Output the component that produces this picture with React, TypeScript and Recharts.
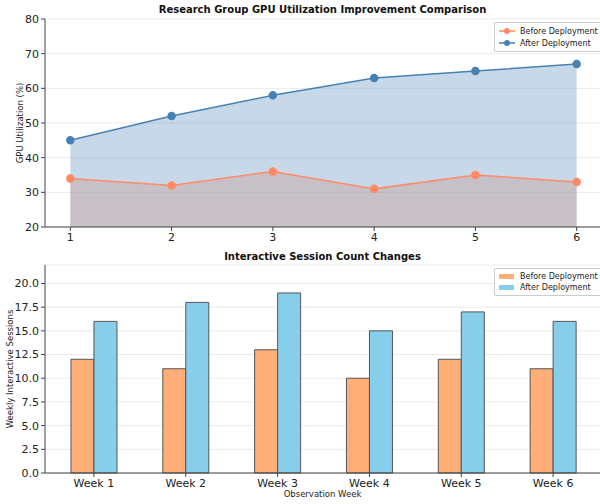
import React from "react";
import {
  ComposedChart,
  Area,
  Line,
  BarChart,
  Bar,
  XAxis,
  YAxis,
  CartesianGrid,
  Legend,
} from "recharts";

const weeks = [1, 2, 3, 4, 5, 6];
const weekLabels = ["Week 1", "Week 2", "Week 3", "Week 4", "Week 5", "Week 6"];
const seriesNames = ["Before Deployment", "After Deployment"];
const gpuBefore = [34, 32, 36, 31, 35, 33];
const gpuAfter = [45, 52, 58, 63, 65, 67];
const sessionsBefore = [12, 11, 13, 10, 12, 11];
const sessionsAfter = [16, 18, 19, 15, 17, 16];

const gpuTicks = [20, 30, 40, 50, 60, 70, 80];
const sessionTicks = [0, 2.5, 5, 7.5, 10, 12.5, 15, 17.5, 20];

const FONT = "'DejaVu Sans', sans-serif";
const C_BEFORE = "#FF8A65";
const C_AFTER = "#4682B4";
const BAR_BEFORE = "#FFAE78";
const BAR_AFTER = "#87CEEB";

const gpuData = weeks.map((w, i) => ({ week: w, before: gpuBefore[i], after: gpuAfter[i] }));
const sessionData = weekLabels.map((w, i) => ({
  week: w,
  before: sessionsBefore[i],
  after: sessionsAfter[i],
}));

const tickStyle = { fontSize: 11, fill: "#222", fontFamily: FONT };

const legendBox: React.CSSProperties = {
  border: "1px solid #ccc",
  borderRadius: 2,
  background: "rgba(255,255,255,0.85)",
  padding: "2px 4px",
  fontFamily: FONT,
  fontSize: 8,
  color: "#222",
  lineHeight: "normal",
};

function ordered(payload: any[], type?: string) {
  return (payload || [])
    .filter((p: any) => seriesNames.includes(p.value) && (!type || p.type === type))
    .sort((a: any, b: any) => seriesNames.indexOf(a.value) - seriesNames.indexOf(b.value));
}

function LineLegend({ payload }: any) {
  return (
    <div style={legendBox}>
      {ordered(payload, "line").map((p: any) => (
        <div key={p.value} style={{ display: "flex", alignItems: "center", height: 12 }}>
          <svg width={16} height={10} style={{ marginRight: 5 }}>
            <line x1={0} y1={5} x2={16} y2={5} stroke={p.color} strokeWidth={1.5} />
            <circle cx={8} cy={5} r={3} fill={p.color} />
          </svg>
          {p.value}
        </div>
      ))}
    </div>
  );
}

function BarLegend({ payload }: any) {
  return (
    <div style={legendBox}>
      {ordered(payload).map((p: any) => (
        <div key={p.value} style={{ display: "flex", alignItems: "center", height: 11 }}>
          <div style={{ width: 15, height: 5, background: p.color, marginRight: 6 }} />
          {p.value}
        </div>
      ))}
    </div>
  );
}

const titleStyle: React.CSSProperties = {
  position: "absolute",
  left: 45,
  width: 555,
  textAlign: "center",
  fontFamily: FONT,
  fontWeight: "bold",
  fontSize: 10,
  color: "#111",
  whiteSpace: "nowrap",
};

const yLabelStyle: React.CSSProperties = {
  position: "absolute",
  fontFamily: FONT,
  fontSize: 8.5,
  color: "#222",
  whiteSpace: "nowrap",
  transform: "translate(-50%, -50%) rotate(-90deg)",
};

export default function App() {
  return (
    <div
      style={{
        position: "absolute",
        left: 0,
        top: 0,
        width: 600,
        height: 504,
        overflow: "hidden",
        background: "#fff",
      }}
    >
      <div style={{ ...titleStyle, top: 4 }}>Research Group GPU Utilization Improvement Comparison</div>
      <div style={{ ...yLabelStyle, left: 20, top: 123 }}>GPU Utilization (%)</div>
      <div style={{ position: "absolute", left: 0, top: 0 }}>
        <ComposedChart
          width={610}
          height={250}
          data={gpuData}
          margin={{ top: 19, right: 8, left: 0, bottom: 3 }}
        >
          <CartesianGrid vertical={false} stroke="#ebebeb" />
          <XAxis
            dataKey="week"
            type="number"
            domain={[0.75, 6.25]}
            ticks={weeks}
            tick={tickStyle}
            tickSize={4}
            height={20}
            stroke="#444"
          />
          <XAxis xAxisId="top" orientation="top" dataKey="week" type="number" domain={[0.75, 6.25]} tick={false} tickLine={false} height={0} stroke="#999" />
          <YAxis
            type="number"
            domain={[20, 80]}
            ticks={gpuTicks}
            tick={tickStyle}
            tickSize={4}
            width={45}
            stroke="#444"
          />
          <Area
            dataKey="before"
            stroke="none"
            fill={C_BEFORE}
            fillOpacity={0.3}
            isAnimationActive={false}
            legendType="none"
            activeDot={false}
          />
          <Area
            dataKey="after"
            stroke="none"
            fill={C_AFTER}
            fillOpacity={0.3}
            isAnimationActive={false}
            legendType="none"
            activeDot={false}
          />
          <Line
            dataKey="before"
            name="Before Deployment"
            stroke={C_BEFORE}
            strokeWidth={1.5}
            dot={{ r: 3.5, fill: C_BEFORE, stroke: C_BEFORE }}
            isAnimationActive={false}
          />
          <Line
            dataKey="after"
            name="After Deployment"
            stroke={C_AFTER}
            strokeWidth={1.5}
            dot={{ r: 3.5, fill: C_AFTER, stroke: C_AFTER }}
            isAnimationActive={false}
          />
          <Legend
            layout="horizontal"
            verticalAlign="middle"
            align="center"
            content={<LineLegend />}
            wrapperStyle={{ position: "absolute", left: 494, top: 22, width: "auto", height: "auto" }}
          />
        </ComposedChart>
      </div>

      <div style={{ ...titleStyle, top: 251 }}>Interactive Session Count Changes</div>
      <div style={{ ...yLabelStyle, left: 10, top: 369 }}>Weekly Interactive Sessions</div>
      <div
        style={{
          position: "absolute",
          left: 0,
          top: 489,
          width: 645,
          textAlign: "center",
          fontFamily: FONT,
          fontSize: 8.5,
          color: "#222",
        }}
      >
        Observation Week
      </div>
      <div style={{ position: "absolute", left: 0, top: 250 }}>
        <BarChart
          width={610}
          height={254}
          data={sessionData}
          margin={{ top: 15, right: 8, left: 0, bottom: 0 }}
          barCategoryGap="25%"
          barGap={0}
        >
          <CartesianGrid vertical={false} stroke="#ebebeb" />
          <XAxis
            dataKey="week"
            tick={tickStyle}
            tickSize={4}
            height={31}
            stroke="#444"
            padding={{ left: 3, right: 3 }}
          />
          <XAxis xAxisId="top" orientation="top" dataKey="week" tick={false} tickLine={false} height={0} stroke="#999" />
          <YAxis
            type="number"
            domain={[0, 21.95]}
            ticks={sessionTicks}
            tickFormatter={(v: number) => v.toFixed(1)}
            tick={tickStyle}
            tickSize={4}
            width={45}
            stroke="#444"
          />
          <Bar
            dataKey="before"
            name="Before Deployment"
            fill={BAR_BEFORE}
            stroke="#555"
            strokeWidth={1}
            isAnimationActive={false}
          />
          <Bar
            dataKey="after"
            name="After Deployment"
            fill={BAR_AFTER}
            stroke="#555"
            strokeWidth={1}
            isAnimationActive={false}
          />
          <Legend
            layout="horizontal"
            verticalAlign="middle"
            align="center"
            content={<BarLegend />}
            wrapperStyle={{ position: "absolute", left: 494, top: 18, width: "auto", height: "auto" }}
          />
        </BarChart>
      </div>
    </div>
  );
}
